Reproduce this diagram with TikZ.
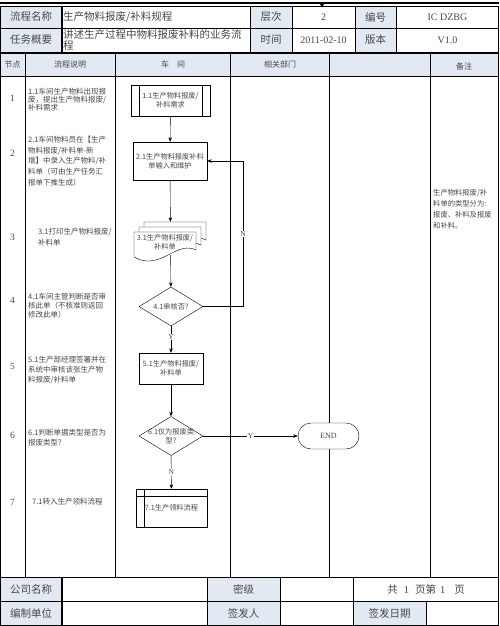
\documentclass[tikz,border=0pt]{standalone}
\usepackage{fontspec}
\setmainfont{Liberation Serif}
\newfontfamily\cjk{Noto Sans CJK SC}
\usetikzlibrary{shapes.geometric,shapes.misc,arrows.meta}
\definecolor{hdrblue}{HTML}{E3E9F3}
\definecolor{txtgray}{HTML}{474747}

\begin{document}
\begin{tikzpicture}[x=1pt,y=-1pt,>={Stealth[length=4.5pt,width=3.5pt]},
  flow/.style={draw, fill=white, font=\cjk\fontsize{7.2}{8.6}\selectfont, text=txtgray, align=center, inner sep=1pt},
  box/.style={flow, rectangle},
  decide/.style={flow, diamond, aspect=1.64, minimum width=64pt, minimum height=39pt, inner sep=0pt},
  yn/.style={fill=white, inner sep=0.6pt, font=\fontsize{7.5}{7.5}\selectfont, text=txtgray},
  hd/.style={font=\cjk\fontsize{10.5}{12}\selectfont, text=txtgray},
  val/.style={font=\fontsize{10}{11}\selectfont, text=txtgray},
  colhd/.style={font=\cjk\fontsize{8}{9}\selectfont, text=txtgray},
  num/.style={font=\fontsize{9.5}{10}\selectfont, text=txtgray},
  desc/.style={anchor=north west, align=left, inner sep=0pt, text=txtgray},
]
\useasboundingbox (0,0) rectangle (499,626);

% shaded cells
\fill[hdrblue] (0,6) rectangle (62,52) (250,6) rectangle (292,52) (355,6) rectangle (396,52);
\fill[hdrblue] (0,53) rectangle (499,76);
\fill[hdrblue] (0,577) rectangle (62,625) (207,577) rectangle (280,625) (353,601) rectangle (426,625);

% grid
\draw[line width=1.3pt] (0,3) -- (499,3);
\fill (319.5,3) -- (324.5,3) -- (322,7.5) -- cycle;
\draw (0.5,6) rectangle (498.5,52);
\draw (0,28) -- (499,28);
\foreach \x in {250,292,355,396} \draw (\x,6) -- (\x,52);
\draw[line width=1.4pt] (62,6) -- (62,52);
\draw (0.5,53) rectangle (498.5,577);
\draw (0,76) -- (499,76);
\foreach \x in {25.5,115.5,230.5,329.5,430} \draw (\x,53) -- (\x,577);
\draw (0.5,577) rectangle (498.5,625);
\draw (0,601) -- (499,601);
\foreach \x in {207,280,353} \draw (\x,577) -- (\x,625);
\draw (426,601) -- (426,625);
\draw[line width=1.4pt] (62,577) -- (62,625);

% header
\node[hd] (h1) at (31,17) {流程名称};
\node[hd] (h2) at (31,40) {任务概要};
\node[hd, anchor=west, inner sep=1pt] (h3) at (62,17) {生产物料报废/补料规程};
\node[hd, anchor=west, align=left, inner sep=1pt, font=\cjk\fontsize{10.5}{11.5}\selectfont] (h4) at (62,40) {讲述生产过程中物料报废补料的业务流\\程};
\node[hd] (h5) at (271,17) {层次};
\node[hd] (h6) at (271,40) {时间};
\node[val] (h7) at (323.5,17) {2};
\node[val] (h8) at (323.5,40) {2011-02-10};
\node[hd] (h9) at (375.5,17) {编号};
\node[hd] (h10) at (375.5,40) {版本};
\node[val] (h11) at (447.5,17) {IC DZBG};
\node[val] (h12) at (447.5,40) {V1.0};

% column heads
\node[colhd] (c1) at (12.7,64.5) {节点};
\node[colhd] (c2) at (70,64.5) {流程说明};
\node[colhd] (c3) at (173,64.5) {车\quad 间};
\node[colhd] (c4) at (280,64.5) {相关部门};
\node[colhd] (c5) at (464,66) {备注};

% node numbers
\node[num] (n1) at (12.5,98) {1};
\node[num] (n2) at (12.5,153) {2};
\node[num] (n3) at (12.5,237) {3};
\node[num] (n4) at (12.5,300) {4};
\node[num] (n5) at (12.5,366) {5};
\node[num] (n6) at (12.5,435) {6};
\node[num] (n7) at (12.5,502) {7};

% descriptions
\node[desc, font=\cjk\fontsize{7.5}{7.8}\selectfont] (s1) at (28,88) {1.1车间生产物料出现报\\废，提出生产物料报废/\\补料需求};
\node[desc, font=\cjk\fontsize{7.5}{10.7}\selectfont] (s2) at (28,136) {2.1车间物料员在【生产\\物料报废/补料单-新\\增】中录入生产物料/补\\料单（可由生产任务汇\\报单下推生成）};
\node[desc, font=\cjk\fontsize{7.5}{11}\selectfont] (s3) at (38,228) {3.1打印生产物料报废/\\补料单};
\node[desc, font=\cjk\fontsize{7.5}{9}\selectfont] (s4) at (28,293) {4.1车间主管判断是否审\\核此单（不核准则返回\\修改此单）};
\node[desc, font=\cjk\fontsize{7.5}{10}\selectfont] (s5) at (28,356) {5.1生产部经理签署并在\\系统中审核该张生产物\\料报废/补料单};
\node[desc, font=\cjk\fontsize{7.5}{10}\selectfont] (s6) at (28,429) {6.1判断单据类型是否为\\报废类型?};
\node[desc, font=\cjk\fontsize{7.5}{10}\selectfont] (s7) at (32,498) {7.1转入生产领料流程};
\node[desc, font=\cjk\fontsize{7.3}{11}\selectfont] (r1) at (433,189) {生产物料报废/补\\料单的类型分为:\\报废、补料及报废\\和补料。};

% footer
\node[hd] (f1) at (31,589) {公司名称};
\node[hd] (f2) at (31,613) {编制单位};
\node[hd] (f3) at (243.5,589) {密级};
\node[hd] (f4) at (243.5,613) {签发人};
\node[hd] (f5) at (426,589) {共\hspace{6pt}{\rmfamily 1}\hspace{6pt}页第\hspace{4pt}{\rmfamily 1}\hspace{9pt}页};
\node[hd] (f6) at (389.5,613) {签发日期};

% flow
\node[box, minimum width=79pt, minimum height=31pt] (b1) at (170.5,100.5) {1.1生产物料报废/\\补料需求};
\draw ([xshift=8pt]b1.north west) -- ([xshift=8pt]b1.south west);
\draw ([xshift=-8pt]b1.north east) -- ([xshift=-8pt]b1.south east);
\node[box, minimum width=74pt, minimum height=38pt] (b2) at (170,161) {2.1生产物料报废补料\\单输入和维护};
\foreach \o in {10,5,0}
  \draw[fill=white] (134+\o,232-\o) -- (196+\o,232-\o) -- (196+\o,250-\o)
    .. controls (176+\o,240-\o) and (160+\o,272-\o) .. (134+\o,257-\o) -- cycle;
\node[minimum width=73pt, minimum height=33pt, inner sep=0pt] (d3) at (170.5,238.5) {};
\node[flow, draw=none, fill=none] (d3t) at (165,242) {3.1生产物料报废/\\补料单};
\node[decide, label={[flow, draw=none, fill=none]center:4.1审核否?}] (q4) at (171,306.5) {};
\node[box, minimum width=64pt, minimum height=31pt] (b5) at (171,368.5) {5.1生产物料报废/\\补料单};
\node[decide, label={[flow, draw=none, fill=none]center:{6.1仅为报废类\\型?}}] (q6) at (171,436) {};
\node[box, minimum width=71pt, minimum height=38pt] (b7) at (171.5,508) {7.1生产领料流程};
\draw ([yshift=-7pt]b7.north west) -- ([yshift=-7pt]b7.north east);
\draw ([xshift=8pt]b7.north west) -- ([xshift=8pt]b7.south west);
\node[flow, rounded rectangle, minimum width=63pt, minimum height=26pt, font=\fontsize{8}{9}\selectfont] (end) at (328.5,436) {END};

\draw[->] (b1) -- (b2);
\draw[->] (b2) -- (d3);
\draw[->] (d3) -- (q4);
\draw[->] (q4) -- node[yn, pos=0.4] {Y} (b5);
\draw[->] (b5) -- (q6);
\draw[->] (q6) -- node[yn] {N} (b7);
\draw[->] (q6) -- node[yn] {Y} (end);
\draw[->] (q4.east) -- ++(40,0) |- node[yn, pos=0.25] {N} (b2.east);
\end{tikzpicture}
\end{document}
